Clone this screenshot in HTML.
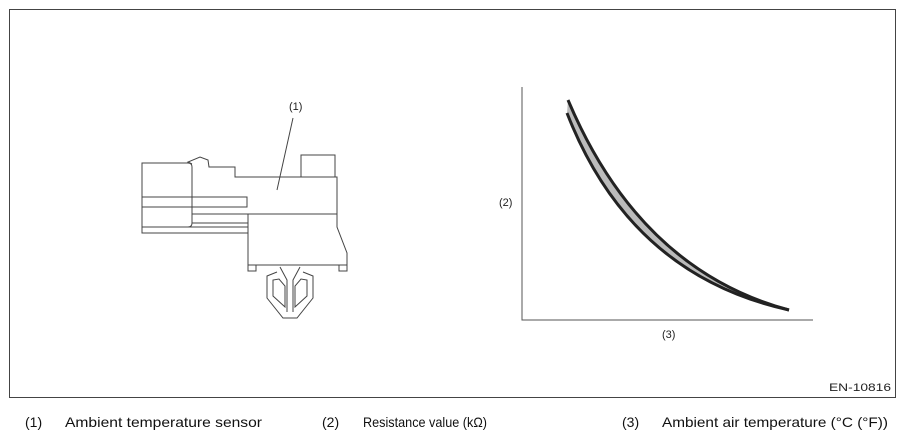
<!DOCTYPE html>
<html><head><style>body{margin:0;background:#fff}svg{display:block}</style></head>
<body>
<svg width="904" height="439" viewBox="0 0 904 439" xmlns="http://www.w3.org/2000/svg" font-family="Liberation Sans, sans-serif" fill="none" stroke="#555" stroke-width="1">
<rect x="9.5" y="9.5" width="886" height="388" stroke="#444"/>
<!-- connector -->
<g stroke="#444">
<path d="M142,163 H188 Q192,163 192,167 V223 Q192,227 188,227 H142 Z"/>
<path d="M192,164 L188,162 L200,157 L208,160 L209,167 H235 V177 H337 V227 L347,253 V265 H248 V214"/>
<rect x="301" y="155" width="34" height="22"/>
<rect x="142" y="197" width="105" height="10"/>
<path d="M192,214 H337 M192,223 H248 M142,227 H248 V233 H142 Z"/>
<path d="M248,265 V271 H256 V265 M339,265 V271 H347 V265"/>
<path d="M280,267 L287,280 V312 M300,267 L293,280 V312"/>
<path d="M277,272 L267,276 V298 L283,318 H297 L313,298 V276 L303,272"/>
<path d="M273,280 V296 L285,307 V286 L279,279 Z M307,280 V296 L295,307 V286 L301,279 Z"/>
<path d="M293,118 L277,190"/>
</g>
<text x="289" y="110" font-size="11" fill="#222" stroke="none">(1)</text>
<!-- chart -->
<path d="M522,87 V320 H813" stroke="#555"/>
<path d="M568,100 Q640,270 789,310 Q630,275 567,113 Z" fill="#bbb" stroke="none"/>
<path d="M568,100 Q640,270 789,310" stroke="#222" stroke-width="3"/>
<path d="M567,113 Q630,275 789,310" stroke="#222" stroke-width="3"/>
<text x="499" y="206" font-size="11" fill="#222" stroke="none">(2)</text>
<text x="662" y="338" font-size="11" fill="#222" stroke="none">(3)</text>
<text x="829" y="391" font-size="11" fill="#222" stroke="none" textLength="62" lengthAdjust="spacingAndGlyphs">EN-10816</text>
<g font-size="14" fill="#111" stroke="none">
<text x="25" y="427">(1)</text>
<text x="65" y="427" textLength="197" lengthAdjust="spacingAndGlyphs">Ambient temperature sensor</text>
<text x="322" y="427">(2)</text>
<text x="363" y="427" textLength="124" lengthAdjust="spacingAndGlyphs">Resistance value (kΩ)</text>
<text x="622" y="427">(3)</text>
<text x="662" y="427" textLength="226" lengthAdjust="spacingAndGlyphs">Ambient air temperature (°C (°F))</text>
</g>
</svg>
</body></html>
